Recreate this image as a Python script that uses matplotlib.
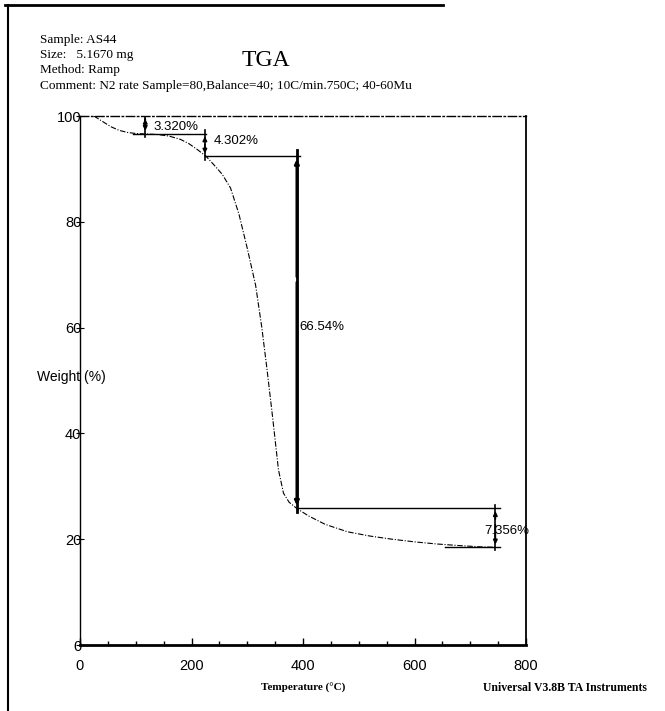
import numpy as np
import matplotlib
matplotlib.use("Agg")
import matplotlib.pyplot as plt
from matplotlib.lines import Line2D

# TGA curve
temp = [25, 40, 55, 70, 85, 100, 120, 140, 160, 180, 195, 210, 226,
        240, 255, 270, 285, 300, 315, 326, 335, 345, 356, 365, 375, 389,
        410, 440, 480, 520, 560, 600, 640, 680, 720, 745]
weight = [100, 99.0, 98.0, 97.3, 96.9, 96.7, 96.6, 96.5, 96.2, 95.6, 94.8, 93.7, 92.4,
          90.8, 89.0, 86.4, 81.5, 75.0, 68.0, 60.1, 52.5, 43.5, 33.1, 28.7, 27.0, 25.8,
          24.4, 22.8, 21.4, 20.6, 20.0, 19.5, 19.1, 18.8, 18.55, 18.48]

# weight loss steps
step_x = [117, 224, 389, 745]
step_top = [100, 96.68, 92.38, 25.84]
step_bot = [96.68, 92.38, 25.84, 18.48]
step_lbl = ['3.320%', '4.302%', '66.54%', '7.356%']
lbl_x = [131, 239, 393, 725]
lbl_y = [97.9, 95.3, 60.1, 21.5]

# tangent lines (y, x0, x1)
tan_y = [96.68, 92.38, 25.84, 18.48]
tan_x0 = [95, 224, 389, 655]
tan_x1 = [226, 395, 753, 753]

xticks = [0, 200, 400, 600, 800]
yticks = [0, 20, 40, 60, 80, 100]

fig = plt.figure(figsize=(6.65, 7.11), dpi=100)
ax = fig.add_axes([0.1203, 0.0928, 0.6707, 0.7440])

ax.plot(temp, weight, color='black', lw=0.8, linestyle=(0, (5, 1.5, 1, 1.5)))

for y, a, b in zip(tan_y, tan_x0, tan_x1):
    ax.plot([a, b], [y, y], color='black', lw=1.0)

for i in range(len(step_x)):
    lw = 2.0 if i == 2 else 1.2
    top = step_top[i] + (1.2 if i == 2 else 0.6)
    ax.plot([step_x[i], step_x[i]], [step_bot[i] - 0.6, top], color='black', lw=lw)
    mid = step_top[i] - (step_top[i] - step_bot[i]) * 0.35
    ax.annotate('', xy=(step_x[i], step_bot[i]), xytext=(step_x[i], mid),
                arrowprops=dict(arrowstyle='-|>', color='black', lw=lw, mutation_scale=6))
    ax.annotate('', xy=(step_x[i], step_top[i]), xytext=(step_x[i], mid),
                arrowprops=dict(arrowstyle='-|>', color='black', lw=lw, mutation_scale=6))
    ax.text(lbl_x[i], lbl_y[i], step_lbl[i], fontsize=9.5, family='Liberation Sans',
            va='center', ha='left')

ax.set_xlim(0, 800)
ax.set_ylim(0, 100)
ax.set_xticks(xticks)
ax.set_xticks(np.arange(0, 801, 50), minor=True)
ax.set_yticks(yticks)
ax.set_xticklabels([str(t) for t in xticks], family='Liberation Sans', fontsize=10.5)
ax.set_yticklabels([str(t) for t in yticks], family='Liberation Sans', fontsize=10.5)
ax.tick_params(axis='x', which='major', direction='in', length=5, width=1, pad=10)
ax.tick_params(axis='x', which='minor', direction='in', length=3, width=1)
ax.tick_params(axis='y', which='major', direction='inout', length=6, width=0.8, pad=-4)

ax.spines['bottom'].set_linewidth(2.0)
ax.spines['right'].set_linewidth(1.3)
ax.spines['right'].set_linestyle((0, (6, 1)))
ax.spines['top'].set_linewidth(1.0)
ax.spines['top'].set_linestyle((0, (6, 2, 1, 2)))
ax.spines['left'].set_linewidth(1.0)
ax.spines['left'].set_linestyle((0, (1, 1)))

fig.text(37 / 665, 1 - 377 / 711, 'Weight (%)', family='Liberation Sans', fontsize=10,
         ha='left', va='center')

fig.text(303 / 665, 1 - 688 / 711, 'Temperature (°C)', family='Liberation Serif',
         fontsize=8, fontweight='bold', ha='center', va='center')
fig.text(565 / 665, 1 - 688 / 711, 'Universal V3.8B TA Instruments', family='Liberation Serif',
         fontsize=8.5, fontweight='bold', ha='center', va='center')

hdr = ['Sample: AS44', 'Size:   5.1670 mg', 'Method: Ramp',
       'Comment: N2 rate Sample=80,Balance=40; 10C/min.750C; 40-60Mu']
hdr_y = [40, 55, 70, 86]
for s, y in zip(hdr, hdr_y):
    fig.text(40 / 665, 1 - y / 711, s, family='Liberation Serif', fontsize=9.5,
             ha='left', va='center')
fig.text(266 / 665, 1 - 60 / 711, 'TGA', family='Liberation Serif', fontsize=17,
         ha='center', va='center')

# outer page border
fig.add_artist(Line2D([5 / 665, 443 / 665], [1 - 5 / 711, 1 - 5 / 711], color='black', lw=2))
fig.add_artist(Line2D([8 / 665, 8 / 665], [1 - 5 / 711, 0], color='black', lw=1.5))

fig.savefig('out.png', dpi=100)
